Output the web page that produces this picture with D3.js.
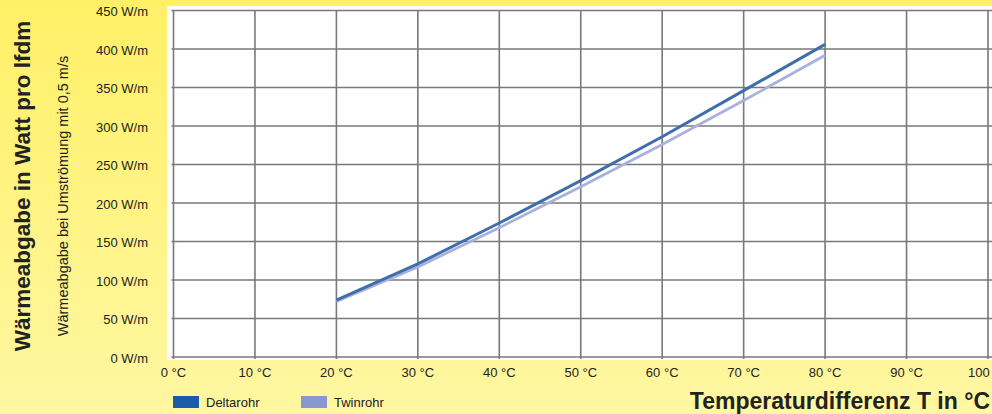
<!DOCTYPE html>
<html>
<head>
<meta charset="utf-8">
<script src="https://cdn.jsdelivr.net/npm/d3@7/dist/d3.min.js"></script>
<style>
  html, body { margin: 0; padding: 0; }
  body { width: 992px; height: 414px; overflow: hidden; font-family: "Liberation Sans", Arial, sans-serif; }
</style>
</head>
<body>
<svg id="chart" width="992" height="414"></svg>
<script>
// ---- data ----
const temps = [20, 30, 40, 50, 60, 70, 80];
const deltarohr = [74, 121, 174, 229, 286, 346, 406];
const twinrohr = [72, 117, 168, 221, 276, 333, 392];
const xTicks = [0, 10, 20, 30, 40, 50, 60, 70, 80, 90, 100];
const yTicks = [0, 50, 100, 150, 200, 250, 300, 350, 400, 450];
const seriesNames = ["Deltarohr", "Twinrohr"];

const svg = d3.select("#chart");
const W = 992, H = 414;

// background gradient
const defs = svg.append("defs");
const grad = defs.append("linearGradient").attr("id", "bg").attr("x1", 0).attr("y1", 0).attr("x2", 0).attr("y2", 1);
grad.append("stop").attr("offset", "0%").attr("stop-color", "#fff066");
grad.append("stop").attr("offset", "100%").attr("stop-color", "#fff7a2");
svg.append("rect").attr("width", W).attr("height", H).attr("fill", "url(#bg)");

const x = d3.scaleLinear().domain([0, 100]).range([173.5, 988]);
const y = d3.scaleLinear().domain([0, 450]).range([357, 10.5]);

// plot area
svg.append("rect").attr("x", 167).attr("y", 6).attr("width", W - 167).attr("height", 354).attr("fill", "#ffffff");

// grid
const grid = svg.append("g").attr("stroke", "#6b6b6b").attr("stroke-width", 1.6).attr("opacity", 0.9);
grid.selectAll("line.v").data(xTicks).join("line")
  .attr("x1", d => x(d)).attr("x2", d => x(d))
  .attr("y1", y(450)).attr("y2", y(0) + 2);
grid.selectAll("line.h").data(yTicks).join("line")
  .attr("x1", x(0) - 2).attr("x2", W)
  .attr("y1", d => y(d)).attr("y2", d => y(d));

// y tick labels
svg.append("g").selectAll("text").data(yTicks).join("text")
  .attr("x", 148).attr("y", d => y(d) + 5.5)
  .attr("text-anchor", "end").attr("font-size", 13).attr("fill", "#222")
  .text(d => d + " W/m");

// x tick labels
svg.append("g").selectAll("text").data(xTicks).join("text")
  .attr("x", d => x(d)).attr("y", 377)
  .attr("text-anchor", "middle").attr("font-size", 13).attr("fill", "#222")
  .text(d => d + " °C");

// lines
const line = d3.line().x((d, i) => x(temps[i])).y(d => y(d));
svg.append("path").datum(twinrohr).attr("d", line)
  .attr("fill", "none").attr("stroke", "#a9b1dc").attr("stroke-width", 2.8);
svg.append("path").datum(deltarohr).attr("d", line)
  .attr("fill", "none").attr("stroke", "#3f6ead").attr("stroke-width", 3);

// axis titles
svg.append("text")
  .attr("transform", "translate(30,186) rotate(-90)")
  .attr("text-anchor", "middle").attr("font-size", 22.5).attr("font-weight", "bold").attr("fill", "#222")
  .text("Wärmeabgabe in Watt pro lfdm");
svg.append("text")
  .attr("transform", "translate(68,196) rotate(-90)")
  .attr("text-anchor", "middle").attr("font-size", 14.5).attr("fill", "#222")
  .text("Wärmeabgabe bei Umströmung mit 0,5 m/s");
svg.append("text")
  .attr("x", 990).attr("y", 409)
  .attr("text-anchor", "end").attr("font-size", 23).attr("font-weight", "bold").attr("fill", "#222")
  .text("Temperaturdifferenz T in °C");

// legend
const legColors = ["#1a5ca8", "#8898cf"];
const legX = [173, 301];
const leg = svg.append("g").selectAll("g").data(seriesNames).join("g")
  .attr("transform", (d, i) => `translate(${legX[i]},396)`);
leg.append("rect").attr("width", 26).attr("height", 12).attr("fill", (d, i) => legColors[i]);
leg.append("text").attr("x", 33).attr("y", 11).attr("font-size", 13).attr("fill", "#222").text(d => d);
</script>
</body>
</html>
